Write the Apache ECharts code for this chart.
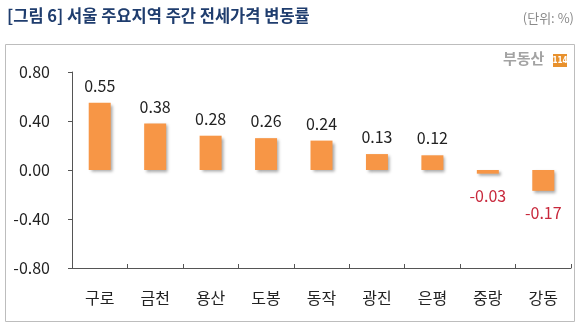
<!DOCTYPE html>
<html>
<head>
<meta charset="utf-8">
<script src="https://cdn.jsdelivr.net/npm/echarts@6/dist/echarts.min.js"></script>
<style>
  html, body { margin: 0; padding: 0; background: #fff; }
  #chart { width: 580px; height: 328px; }
</style>
</head>
<body>
<div id="chart"></div>
<script>
// 서울 주요지역 주간 전세가격 변동률 (%)
const districts = ['구로', '금천', '용산', '도봉', '동작', '광진', '은평', '중랑', '강동'];
const changeRates = [0.55, 0.38, 0.28, 0.26, 0.24, 0.13, 0.12, -0.03, -0.17];
const yTicks = [-0.8, -0.4, 0, 0.4, 0.8];

const FONT = '"Noto Sans CJK KR", "Noto Sans", sans-serif';
const BAR = '#F79646';

const chart = echarts.init(document.getElementById('chart'), null, { renderer: 'canvas' });

const barData = changeRates.map(v => ({
  value: v,
  label: v < 0
    ? { position: 'bottom', distance: 14, color: '#C8283C' }
    : { position: 'top', distance: 9, color: '#222' }
}));

chart.setOption({
  animation: false,
  grid: { left: 72, right: 9, top: 72, bottom: 60, containLabel: false },
  xAxis: [
    {
      type: 'category',
      data: districts,
      axisLine: { show: false },
      axisTick: { show: false },
      axisLabel: { margin: 22, fontSize: 16, color: '#222', fontFamily: FONT }
    },
    {
      type: 'category',
      data: districts,
      position: 'bottom',
      axisLine: { onZero: true, lineStyle: { color: '#555', width: 1 } },
      axisTick: { show: true, inside: true, length: 4, lineStyle: { color: '#555' } },
      axisLabel: { show: false }
    }
  ],
  yAxis: {
    type: 'value',
    min: yTicks[0],
    max: yTicks[yTicks.length - 1],
    interval: 0.4,
    splitLine: { show: false },
    axisLine: { show: true, lineStyle: { color: '#555' } },
    axisTick: { show: true, length: 4, lineStyle: { color: '#555' } },
    axisLabel: {
      margin: 22, fontSize: 16, color: '#222', fontFamily: FONT,
      formatter: v => v.toFixed(2)
    }
  },
  series: [{
    type: 'bar',
    xAxisIndex: 0,
    data: barData,
    barWidth: 22,
    itemStyle: {
      color: BAR,
      shadowColor: 'rgba(0,0,0,0.35)',
      shadowBlur: 3,
      shadowOffsetX: 2,
      shadowOffsetY: 2
    },
    label: {
      show: true,
      fontSize: 16,
      fontFamily: FONT,
      formatter: p => p.value.toFixed(2)
    }
  }],
  graphic: [
    {
      type: 'rect',
      shape: { x: 5.5, y: 44.5, width: 569, height: 277 },
      style: { fill: 'none', stroke: '#bdbdbd', lineWidth: 1 },
      z: -1
    },
    {
      type: 'text',
      left: 7, top: 7,
      style: {
        text: '[그림 6] 서울 주요지역 주간 전세가격 변동률',
        font: 'bold 16.5px ' + FONT,
        fill: '#1F3D6E'
      }
    },
    {
      type: 'text',
      right: 6, top: 12,
      style: {
        text: '(단위: %)',
        font: '13px ' + FONT,
        fill: '#8a8a8a'
      }
    },
    {
      type: 'text',
      left: 503, top: 51,
      style: {
        text: '부동산',
        font: 'bold 15px ' + FONT,
        fill: '#a3a3a3'
      }
    },
    {
      type: 'rect',
      shape: { x: 553, y: 54, width: 14, height: 13 },
      style: { fill: '#E8912D' }
    },
    {
      type: 'text',
      x: 560, y: 60.5,
      style: {
        text: '114',
        font: 'bold 8px "Liberation Sans Narrow", "DejaVu Sans Condensed", sans-serif',
        fill: '#fff',
        align: 'center',
        verticalAlign: 'middle'
      }
    }
  ]
});
</script>
</body>
</html>
